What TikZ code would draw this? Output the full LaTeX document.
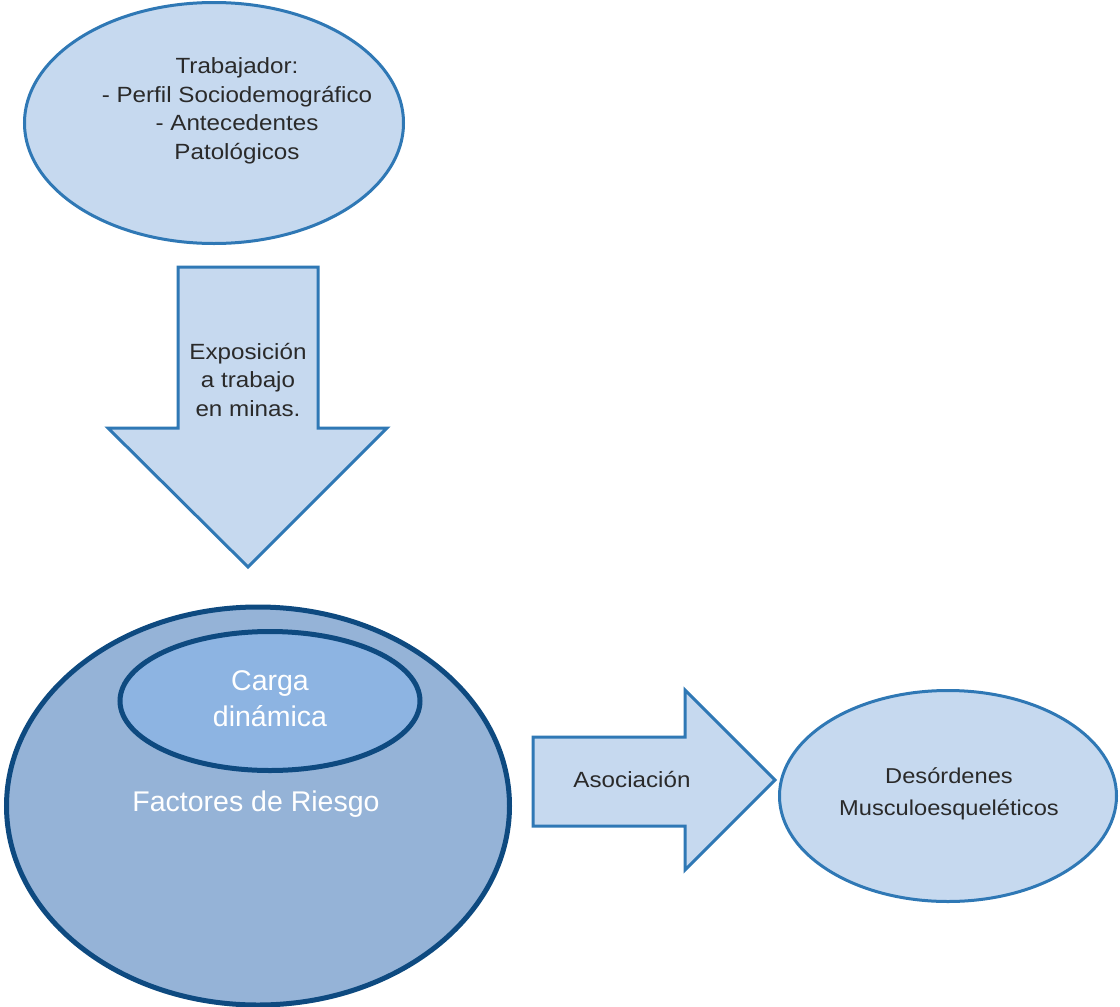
\documentclass[tikz,border=0pt]{standalone}
\usepackage{fontspec}
\setmainfont{Liberation Sans}
\newfontfamily\widefont[FakeStretch=1.1]{Liberation Sans}
\usetikzlibrary{shapes.geometric}
\definecolor{lightfill}{HTML}{C6D9EF}
\definecolor{lightline}{HTML}{2F78B5}
\definecolor{bigfill}{HTML}{95B3D7}
\definecolor{innerfill}{HTML}{8DB4E2}
\definecolor{darkline}{HTML}{0E4A80}
\definecolor{txtdark}{HTML}{2A2A2A}
\tikzset{
  lightshape/.style={fill=lightfill, draw=lightline, line width=3pt, line join=miter},
  bigshape/.style={ellipse, fill=bigfill, draw=darkline, line width=5pt, inner sep=0pt},
  innershape/.style={ellipse, fill=innerfill, draw=darkline, line width=5pt, inner sep=0pt},
  lightell/.style={ellipse, lightshape, inner sep=0pt},
  darktxt/.style={text=txtdark, align=center, font=\widefont\fontsize{22}{28.5}\selectfont, inner sep=0pt},
  whitetxt/.style={text=white, align=center, font=\fontsize{28.5}{36}\selectfont, inner sep=0pt}
}
\begin{document}
\begin{tikzpicture}[x=1pt,y=-1pt]
\useasboundingbox[fill=white] (0,0) rectangle (1120,1007);

% top ellipse
\node[lightell, minimum width=379pt, minimum height=241pt] (trab) at (214,123) {};
\node[darktxt] (trabtxt) at (237,111) {Trabajador:\\- Perfil Sociodemográfico\\- Antecedentes\\Patológicos};

% down arrow
\draw[lightshape] (178,267) -- (318,267) -- (318,428) -- (387,428) -- (248,567) -- (108,428) -- (178,428) -- cycle;
\node[darktxt] (expo) at (248,380) {Exposición\\a trabajo\\en minas.};

% big ellipse
\node[bigshape, minimum width=503pt, minimum height=398pt] (fact) at (258,806) {};
\node[innershape, minimum width=300pt, minimum height=139pt] (carga) at (270,701) {};
\node[whitetxt] (cargatxt) at (270,699) {Carga\\dinámica};
\node[whitetxt] (facttxt) at (256,804) {Factores de Riesgo};

% right arrow
\draw[lightshape] (533,737) -- (685,737) -- (685,690) -- (775,780) -- (685,870) -- (685,826) -- (533,826) -- cycle;
\node[darktxt] (asoc) at (632,779) {Asociación};

% right ellipse
\node[lightell, minimum width=337pt, minimum height=211pt] (dme) at (948,796) {};
\node[darktxt, font=\widefont\fontsize{21.5}{32}\selectfont] (dmetxt) at (949,794) {Desórdenes\\Musculoesqueléticos};
\end{tikzpicture}
\end{document}
